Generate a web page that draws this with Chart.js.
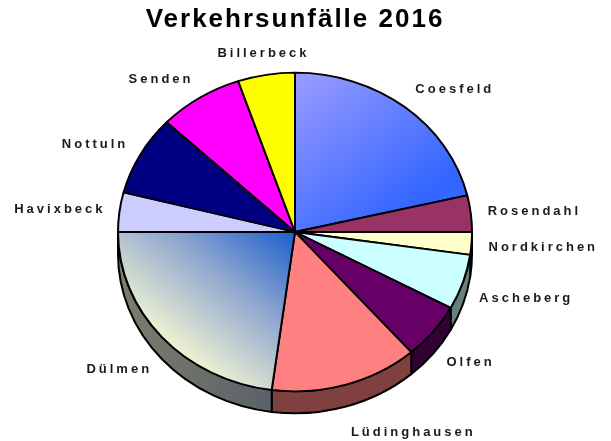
<!DOCTYPE html>
<html>
<head>
<meta charset="utf-8">
<script src="https://cdn.jsdelivr.net/npm/chart.js@4"></script>
<style>
  body { margin: 0; background: #fff; }
</style>
</head>
<body>
<canvas id="chart" width="611" height="441"></canvas>
<script>
// Verkehrsunfälle 2016
const towns = ['Coesfeld', 'Rosendahl', 'Nordkirchen', 'Ascheberg', 'Olfen', 'Lüdinghausen',
               'Dülmen', 'Havixbeck', 'Nottuln', 'Senden', 'Billerbeck'];
const accidents = [1065, 185, 115, 280, 285, 675, 1145, 200, 405, 385, 260];

// top face colours (null = gradient below), side wall colours
const topColors = [null, '#993366', '#ffffcc', '#ccffff', '#660066', '#ff8080',
                   null, '#ccccff', '#000080', '#ff00ff', '#ffff00'];
const sideColors = ['#334d80', '#4d1a33', '#808066', '#668080', '#330033', '#804040',
                    null, '#666680', '#000040', '#800080', '#808000'];

// gradients in fractions of the pie radius, relative to the centre
const topGradients = {
    0: { from: [0.0, -1.0], to: [0.7, -0.2], stops: [[0, '#9c9cff'], [1, '#3366ff']] },
    6: { from: [0.0, 0.0], to: [-0.66, 0.74], stops: [[0, '#1a5fcc'], [0.5, '#93a9cf'], [1, '#eef2d2']] }
};
const sideGradients = {
    6: { from: -1.0, to: -0.13, stops: [[0, '#7d7d6d'], [1, '#5a6268']] }
};

const DEPTH = 22;     // height of the pie wall
const SQUASH = 0.9;   // vertical tilt of the pie

function sliceFill(context) {
    const i = context.dataIndex;
    const chart = context.chart;
    const area = chart.chartArea;
    const g = topGradients[i];
    if (!g) return topColors[i];
    if (!area) return '#8080ff';
    const cx = (area.left + area.right) / 2;
    const cy = (area.top + area.bottom) / 2;
    const r = Math.min(area.right - area.left, area.bottom - area.top) / 2;
    const grad = chart.ctx.createLinearGradient(
        cx + g.from[0] * r, cy + g.from[1] * r, cx + g.to[0] * r, cy + g.to[1] * r);
    g.stops.forEach(([o, c]) => grad.addColorStop(o, c));
    return grad;
}

// draws the wall under the pie, tilts the top face and writes the labels
const pie3d = {
    id: 'pie3d',
    beforeDraw(chart) {
        chart.ctx.letterSpacing = '2px';
    },
    beforeDatasetsDraw(chart) {
        const ctx = chart.ctx;
        const arcs = chart.getDatasetMeta(0).data;
        ctx.save();
        ctx.lineWidth = 2;
        ctx.strokeStyle = '#000';
        ctx.lineJoin = 'round';
        arcs.forEach((arc, i) => {
            const p = arc.getProps(['x', 'y', 'startAngle', 'endAngle', 'outerRadius'], true);
            const a1 = Math.max(p.startAngle, 0);
            const a2 = Math.min(p.endAngle, Math.PI);
            if (a2 <= a1) return;
            const ry = p.outerRadius * SQUASH;
            ctx.beginPath();
            ctx.ellipse(p.x, p.y, p.outerRadius, ry, 0, a1, a2);
            ctx.ellipse(p.x, p.y + DEPTH, p.outerRadius, ry, 0, a2, a1, true);
            ctx.closePath();
            const sg = sideGradients[i];
            if (sg) {
                const grad = ctx.createLinearGradient(p.x + sg.from * p.outerRadius, 0,
                                                      p.x + sg.to * p.outerRadius, 0);
                sg.stops.forEach(([o, c]) => grad.addColorStop(o, c));
                ctx.fillStyle = grad;
            } else {
                ctx.fillStyle = sideColors[i];
            }
            ctx.fill();
            ctx.stroke();
        });
        ctx.restore();

        const { x, y } = arcs[0];
        ctx.save();
        ctx.translate(x, y);
        ctx.scale(1, SQUASH);
        ctx.translate(-x, -y);
    },
    afterDatasetsDraw(chart) {
        const ctx = chart.ctx;
        ctx.restore();

        const arcs = chart.getDatasetMeta(0).data;
        ctx.save();
        ctx.font = 'bold 13px "Liberation Sans", Arial, sans-serif';
        ctx.letterSpacing = '3px';
        ctx.fillStyle = '#1a1a1a';
        ctx.textBaseline = 'middle';
        arcs.forEach((arc, i) => {
            const p = arc.getProps(['x', 'y', 'startAngle', 'endAngle', 'outerRadius'], true);
            const mid = (p.startAngle + p.endAngle) / 2;
            const c = Math.cos(mid);
            const s = Math.sin(mid);
            const lx = p.x + (p.outerRadius + 17) * c;
            const ly = p.y + (p.outerRadius * SQUASH + (s > 0 ? 28 : 22)) * s + (s > 0 ? DEPTH * s : 0);
            ctx.textAlign = c > 0.2 ? 'left' : (c < -0.2 ? 'right' : 'center');
            ctx.fillText(towns[i], lx + (c < -0.2 ? 3 : 0), ly);
        });
        ctx.restore();
    }
};

new Chart(document.getElementById('chart'), {
    type: 'pie',
    data: {
        labels: towns,
        datasets: [{
            data: accidents,
            backgroundColor: sliceFill,
            borderColor: '#000',
            borderWidth: 2
        }]
    },
    options: {
        responsive: false,
        animation: false,
        events: [],
        layout: { padding: { left: 117, right: 138, top: 0, bottom: 31 } },
        plugins: {
            legend: { display: false },
            tooltip: { enabled: false },
            title: {
                display: true,
                text: 'Verkehrsunfälle 2016',
                color: '#000',
                font: { family: '"Liberation Sans", Arial, sans-serif', size: 26, weight: 'bold' },
                padding: { top: 4, bottom: 18.8 }
            }
        }
    },
    plugins: [pie3d]
});
</script>
</body>
</html>
